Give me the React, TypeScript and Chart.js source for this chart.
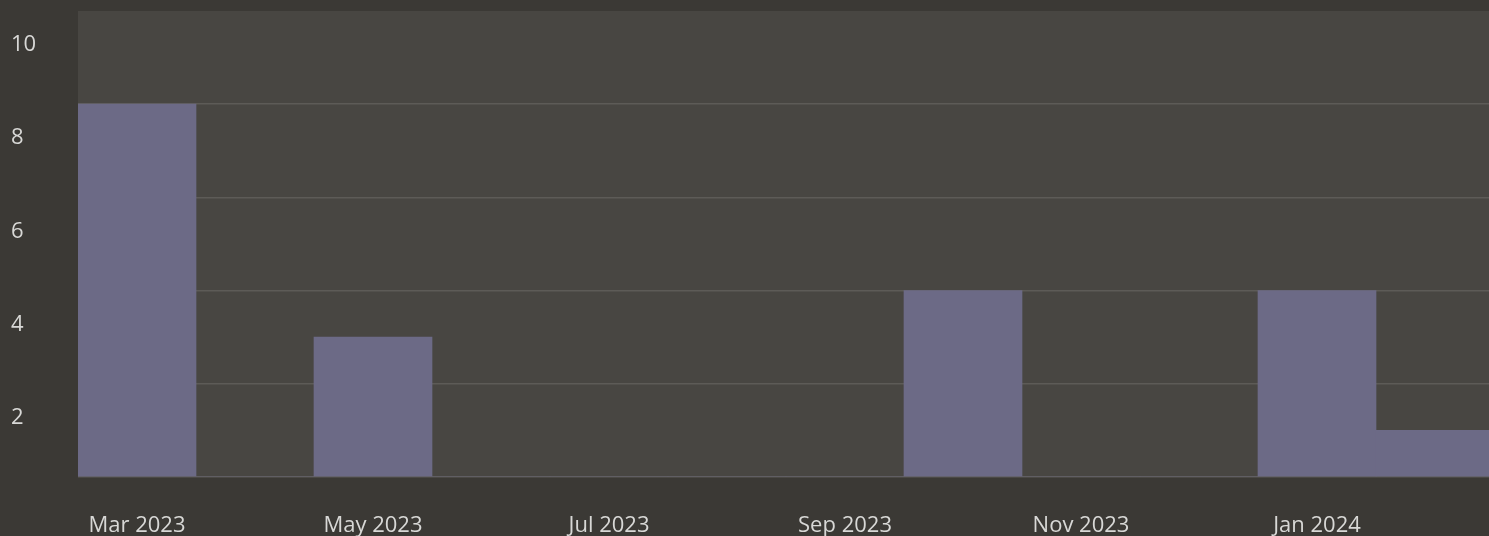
import React, { useEffect, useRef } from "react";
import { Chart, registerables } from "chart.js";

Chart.register(...registerables);

const months = [
  "Mar 2023", "Apr 2023", "May 2023", "Jun 2023", "Jul 2023", "Aug 2023",
  "Sep 2023", "Oct 2023", "Nov 2023", "Dec 2023", "Jan 2024", "Feb 2024",
];
const counts = [8, 0, 3, 0, 0, 0, 0, 4, 0, 0, 4, 1];
const yTicks = [2, 4, 6, 8, 10];

const OUTER_BG = "#3b3935";
const PLOT_BG = "#484642";
const BAR = "#6c6a86";
const GRID = "#5d5b57";
const TEXT = "#d8d8d6";

const plotBg = {
  id: "plotBg",
  beforeDraw(chart: any) {
    const { ctx, chartArea } = chart;
    ctx.save();
    ctx.fillStyle = PLOT_BG;
    ctx.fillRect(chartArea.left, chartArea.top, chartArea.right - chartArea.left, chartArea.bottom - chartArea.top);
    ctx.restore();
  },
};

export default function App() {
  const ref = useRef<HTMLCanvasElement>(null);
  useEffect(() => {
    document.body.style.margin = "0";
    document.body.style.background = OUTER_BG;
    document.body.style.overflow = "hidden";
    const chart = new Chart(ref.current!, {
      type: "bar",
      data: {
        labels: months,
        datasets: [
          {
            data: counts,
            backgroundColor: BAR,
            borderWidth: 0,
            categoryPercentage: 1,
            barPercentage: 1,
          },
        ],
      },
      options: {
        animation: false,
        responsive: false,
        maintainAspectRatio: false,
        layout: { padding: { left: 11, top: 11, right: 0, bottom: 0 } },
        plugins: { legend: { display: false }, tooltip: { enabled: false } },
        scales: {
          x: {
            grid: { display: false, drawTicks: false },
            border: { display: false },
            ticks: {
              autoSkip: false,
              maxRotation: 0,
              color: TEXT,
              padding: 36,
              font: { family: "'Open Sans', sans-serif", size: 22 },
              callback: (_v: any, i: number) => (i % 2 === 0 ? months[i] : ""),
            },
            afterFit: (s: any) => {
              s.height = 59;
            },
          },
          y: {
            min: 0,
            max: 10,
            afterBuildTicks: (s: any) => {
              s.ticks = [0, ...yTicks].map((v) => ({ value: v }));
            },
            grid: {
              drawTicks: false,
              color: (c: any) => (c.tick && c.tick.value === 10 ? "rgba(0,0,0,0)" : GRID),
              lineWidth: 1.5,
            },
            border: { display: false },
            ticks: {
              color: TEXT,
              crossAlign: "far",
              labelOffset: 34,
              font: { family: "'Open Sans', sans-serif", size: 22 },
              callback: (v: any) => (v === 0 ? "" : String(v)),
            },
            afterFit: (s: any) => {
              s.width = 67;
              s.paddingTop = 0;
              s.paddingBottom = 0;
            },
          },
        },
      },
      plugins: [plotBg],
    });
    return () => chart.destroy();
  }, []);
  return (
    <div style={{ width: 1489, height: 536, background: OUTER_BG, overflow: "hidden" }}>
      <canvas ref={ref} width={1494} height={536} style={{ display: "block" }} />
    </div>
  );
}
